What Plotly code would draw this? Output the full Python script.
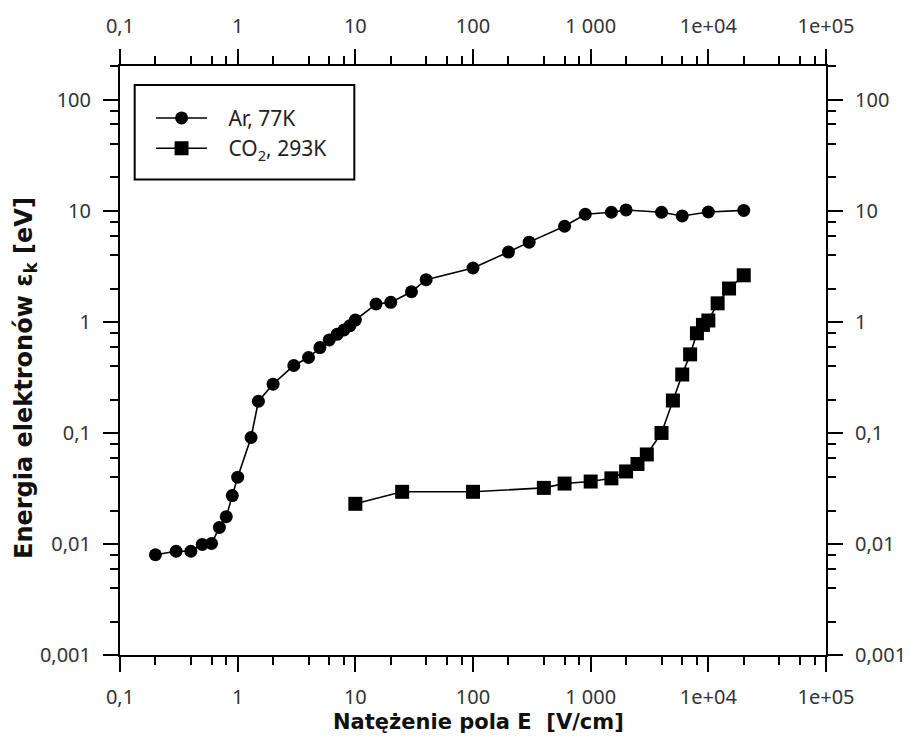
import plotly.graph_objects as go

# Mean electron energy vs. electric field strength
ar_field = [0.2, 0.3, 0.4, 0.5, 0.6, 0.7, 0.8, 0.9, 1.0, 1.3, 1.5, 2, 3, 4, 5, 6, 7, 8, 9, 10,
            15, 20, 30, 40, 100, 200, 300, 600, 900, 1500, 2000, 4000, 6000, 10000, 20000]
ar_energy = [0.008, 0.0086, 0.0086, 0.0099, 0.0101, 0.0141, 0.0176, 0.0273, 0.040, 0.091,
             0.193, 0.275, 0.405, 0.478, 0.587, 0.689, 0.773, 0.846, 0.925, 1.04,
             1.45, 1.50, 1.87, 2.40, 3.06, 4.26, 5.23, 7.27, 9.33, 9.72, 10.2, 9.72, 9.0, 9.77, 10.1]

co2_field = [10, 25, 100, 400, 600, 1000, 1500, 2000, 2500, 3000, 4000, 5000, 6000, 7000,
             8000, 9000, 10000, 12000, 15000, 20000]
co2_energy = [0.023, 0.0295, 0.0295, 0.032, 0.035, 0.0365, 0.039, 0.045, 0.0525, 0.064,
              0.10, 0.196, 0.336, 0.51, 0.79, 0.94, 1.03, 1.47, 2.0, 2.63]

series_names = ["Ar, 77K", "CO<sub>2</sub>, 293K"]

x_tickvals = [0.1, 1, 10, 100, 1000, 1e4, 1e5]
x_ticktext = ["0,1", "1", "10", "100", "1 000", "1e+04", "1e+05"]
y_tickvals = [0.001, 0.01, 0.1, 1, 10, 100]
y_ticktext = ["0,001", "0,01", "0,1", "1", "10", "100"]

minor_steps = [2, 4, 6, 8]
x_minor = [m * 10.0 ** e for e in range(-1, 5) for m in minor_steps]
y_minor = [m * 10.0 ** e for e in range(-3, 3) for m in minor_steps]

X_RANGE = [-1, 5]
Y_RANGE = [-3, 2.305]

tick_font = dict(family="Noto Sans", size=20, color="#333333")
LEGEND_PAD = "\u00a0\u00a0\u00a0"


def log_axis(tickvals, ticktext, minor_vals, rng, **extra):
    ax = dict(
        type="log", range=rng, showgrid=False, zeroline=False,
        showline=True, linecolor="black", linewidth=2,
        ticks="outside", ticklen=15, tickwidth=2, tickcolor="black",
        tickmode="array", tickvals=tickvals, ticktext=ticktext,
        tickfont=tick_font, ticklabelstandoff=8,
        minor=dict(tickmode="array", tickvals=minor_vals, ticks="outside",
                   ticklen=8, tickwidth=2, tickcolor="black", showgrid=False),
    )
    ax.update(extra)
    return ax


fig = go.Figure()

fig.add_trace(go.Scatter(
    x=ar_field, y=ar_energy, mode="lines+markers", name=LEGEND_PAD + series_names[0],
    line=dict(color="black", width=1.6),
    marker=dict(symbol="circle", size=13, color="black"),
))
fig.add_trace(go.Scatter(
    x=co2_field, y=co2_energy, mode="lines+markers", name=LEGEND_PAD + series_names[1],
    line=dict(color="black", width=1.6),
    marker=dict(symbol="square", size=14, color="black"),
))
# carrier trace so the top and right axes are drawn
fig.add_trace(go.Scatter(
    x=[x_tickvals[0]], y=[y_tickvals[0]], xaxis="x2", yaxis="y2",
    mode="markers", marker=dict(opacity=0), showlegend=False, hoverinfo="skip",
))

fig.update_layout(
    width=918, height=737,
    margin=dict(l=120, r=78, t=63, b=82),
    paper_bgcolor="white", plot_bgcolor="white",
    xaxis=log_axis(x_tickvals, x_ticktext, x_minor, X_RANGE),
    yaxis=log_axis(y_tickvals, y_ticktext, y_minor, Y_RANGE),
    xaxis2=log_axis(x_tickvals, x_ticktext, x_minor, X_RANGE,
                    overlaying="x", side="top", anchor="y"),
    yaxis2=log_axis(y_tickvals, y_ticktext, y_minor, Y_RANGE,
                    overlaying="y", side="right", anchor="x"),
    legend=dict(
        x=0.044, y=0.946, xanchor="left", yanchor="top",
        bgcolor="rgba(0,0,0,0)", borderwidth=0,
        font=dict(family="Noto Sans", size=21, color="#222222"),
        itemwidth=51,
    ),
    showlegend=True,
    shapes=[
        # legend frame
        dict(type="rect", xref="paper", yref="paper",
             x0=0.0208, x1=0.3319, y0=0.8074, y1=0.9679,
             line=dict(color="black", width=2), fillcolor="rgba(0,0,0,0)", layer="above"),
    ],
    annotations=[
        dict(text="<b>Natężenie pola E \u00a0[V/cm]</b>", xref="paper", yref="paper",
             x=0.508, y=-0.113, xanchor="center", yanchor="middle", showarrow=False,
             font=dict(family="DejaVu Sans", size=21, color="#111111")),
        dict(text="<b>Energia elektronów ε<sub>k</sub> [eV]</b>", xref="paper", yref="paper",
             x=-0.134, y=0.471, xanchor="center", yanchor="middle", textangle=-90,
             showarrow=False,
             font=dict(family="DejaVu Sans", size=24, color="#111111")),
    ],
)

fig.write_html("out.html")
